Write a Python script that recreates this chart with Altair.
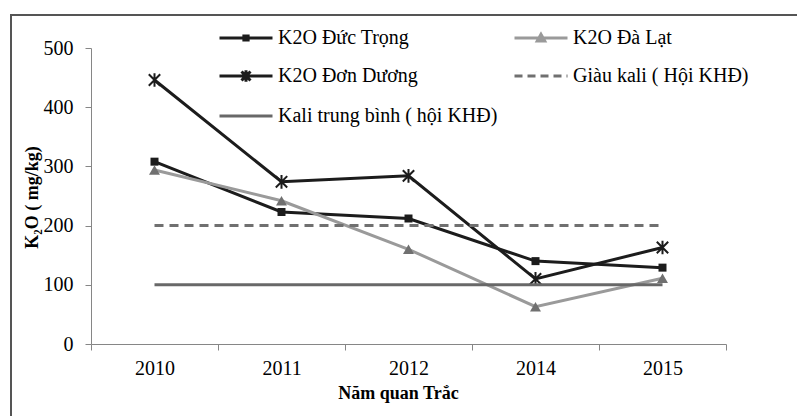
import altair as alt
import pandas as pd

# ---- data ----
years = ["2010", "2011", "2012", "2014", "2015"]
duc_trong = [308, 223, 212, 140, 129]
da_lat = [294, 242, 160, 63, 111]
don_duong = [446, 274, 284, 110, 163]
giau_kali = [200, 200, 200, 200, 200]
kali_tb = [100, 100, 100, 100, 100]

names = ["K2O Đức Trọng", "K2O Đà Lạt", "K2O Đơn Dương",
         "Giàu kali ( Hội KHĐ)", "Kali trung bình ( hội KHĐ)"]

rows = []
for nm, vals in zip(names, [duc_trong, da_lat, don_duong, giau_kali, kali_tb]):
    for yr, v in zip(years, vals):
        rows.append({"year": yr, "value": v, "series": nm})
df = pd.DataFrame(rows)

FONT = "Liberation Serif"
BLACK = "#1c1c1c"
LIGHT = "#9a9a9a"
MID = "#707070"
SOLID = "#686868"
AXIS = "#868686"

x_enc = alt.X(
    "year:O", sort=years, bandPosition=0.5,
    scale=alt.Scale(type="band", paddingInner=0, paddingOuter=0),
    axis=alt.Axis(title="Năm quan Trắc", tickBand="extent", labelAngle=0,
                  labelFont=FONT, labelFontSize=20, labelColor="black",
                  labelBaseline="middle", labelPadding=18, tickSize=6,
                  tickColor=AXIS, domainColor=AXIS, grid=False,
                  titleFont=FONT, titleFontSize=18, titleFontWeight="bold",
                  titleColor="black", titleX=307, titleY=49,
                  titleBaseline="middle", titleAnchor="middle"))
y_enc = alt.Y(
    "value:Q",
    scale=alt.Scale(domain=[0, 500], nice=False, zero=True),
    axis=alt.Axis(title="K₂O ( mg/kg)", values=[0, 100, 200, 300, 400, 500],
                  labelFont=FONT, labelFontSize=20, labelColor="black",
                  labelPadding=12, tickSize=6, tickColor=AXIS, domainColor=AXIS,
                  grid=False, titleFont=FONT, titleFontSize=18,
                  titleFontWeight="bold", titleColor="black", titleX=-59,
                  titleY=149, titleBaseline="middle", titleAngle=-90))

base = alt.Chart(df)


def sel(name):
    return base.transform_filter(alt.datum.series == name)


ASTER = "M-1,-1L1,1M-1,1L1,-1M0,-1.2L0,1.2"

layers = [
    sel(names[0]).mark_line(color=BLACK, strokeWidth=3).encode(x=x_enc, y=y_enc),
    sel(names[0]).mark_point(shape="square", filled=True, size=64, color=BLACK, opacity=1).encode(x=x_enc, y=y_enc),
    sel(names[1]).mark_line(color=LIGHT, strokeWidth=3).encode(x=x_enc, y=y_enc),
    sel(names[1]).mark_point(shape="triangle-up", filled=True, size=120, color=MID, opacity=1).encode(x=x_enc, y=y_enc),
    sel(names[2]).mark_line(color=BLACK, strokeWidth=3).encode(x=x_enc, y=y_enc),
    sel(names[2]).mark_point(shape=ASTER, filled=False, size=130, color=BLACK, strokeWidth=2, opacity=1).encode(x=x_enc, y=y_enc),
    sel(names[3]).mark_line(color=MID, strokeWidth=3, strokeDash=[9, 6]).encode(x=x_enc, y=y_enc),
    sel(names[4]).mark_line(color=SOLID, strokeWidth=3).encode(x=x_enc, y=y_enc),
]

# legend (symbols = line + marker); order chosen so the column-major grid
# reads row by row like the reference
leg_order = [names[0], names[2], names[4], names[1], names[3]]
leg_paths = [
    "M-1,0H1M-0.08,-0.08H0.08V0.08H-0.08Z",
    "M-1,0H1M-0.17,-0.17L0.17,0.17M-0.17,0.17L0.17,-0.17M0,-0.22V0.22",
    "M-1,0H1",
    "M-1,0H1M-0.14,0.11L0,-0.14L0.14,0.11Z",
    "M-1,0H1",
]
leg_fill = [BLACK, BLACK, SOLID, MID, MID]
leg_stroke = [BLACK, BLACK, SOLID, LIGHT, MID]
leg_dash = [[1, 0], [1, 0], [1, 0], [1, 0], [8, 5]]

leg = alt.Legend(title=None, orient="none", legendX=127, legendY=-38, columns=2,
                 columnPadding=10, rowPadding=-19, symbolSize=2809,
                 symbolStrokeWidth=3, labelFont=FONT, labelFontSize=20,
                 labelColor="black", labelLimit=400, labelOffset=4, padding=0)

legend_layer = base.transform_filter("false").mark_point(filled=True, strokeWidth=3, opacity=1).encode(
    x=x_enc, y=y_enc,
    shape=alt.Shape("series:N", scale=alt.Scale(domain=leg_order, range=leg_paths), legend=leg),
    fill=alt.Fill("series:N", scale=alt.Scale(domain=leg_order, range=leg_fill), legend=leg),
    stroke=alt.Stroke("series:N", scale=alt.Scale(domain=leg_order, range=leg_stroke), legend=leg),
    strokeDash=alt.StrokeDash("series:N", scale=alt.Scale(domain=leg_order, range=leg_dash), legend=leg),
)

one = alt.Chart(pd.DataFrame({"a": [0]}))
frame_top = one.mark_rule(color="#555555", strokeWidth=2).encode(
    x=alt.value(-80), x2=alt.value(720), y=alt.value(-33))
frame_left = one.mark_rule(color="#555555", strokeWidth=2).encode(
    x=alt.value(-80), y=alt.value(-34), y2=alt.value(380))

chart = alt.layer(*layers, legend_layer, frame_top, frame_left).properties(
    width=635, height=296,
    autosize=alt.AutoSizeParams(type="none"),
    padding={"left": 91, "top": 48, "right": 71, "bottom": 72},
    background="white",
).configure(font=FONT).configure_view(stroke=None).configure_legend(
    labelFont=FONT, labelFontSize=20, labelColor="black", labelLimit=400
).configure_axis(labelFont=FONT, titleFont=FONT)

chart.save("out.html", embed_options={"renderer": "svg", "actions": False})
